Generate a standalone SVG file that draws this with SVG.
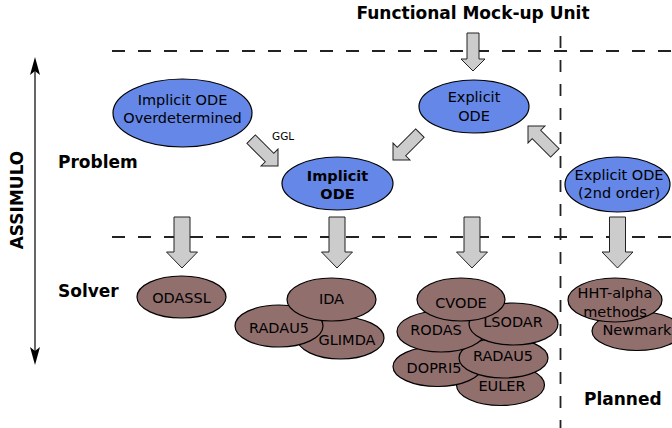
<svg xmlns="http://www.w3.org/2000/svg" xmlns:xlink="http://www.w3.org/1999/xlink" width="672" height="428" viewBox="0 0 672 428">
<style>
text{font-family:"DejaVu Sans","Liberation Sans",sans-serif;fill:#000}
.lbl{font-size:17px;font-weight:bold}
.nt{font-size:14.5px;text-anchor:middle}
.b{font-weight:bold}
.prob{fill:#6487e8;stroke:#000;stroke-width:1.2}
.solv{fill:#916f6d;stroke:#000;stroke-width:1.2}
.arr{fill:#cccccc;stroke:#222;stroke-width:1}
.dash{stroke:#222;stroke-width:1.8;stroke-dasharray:13 13;fill:none}
.vdash{stroke:#222;stroke-width:1.8;stroke-dasharray:12 12;fill:none}
</style>
<defs>
<path id="sa" d="M-6,-38 L6,-38 L6,-12 L12,-12 L0,0 L-12,-12 L-6,-12 Z"/>
<path id="ba" d="M-8,-51 L8,-51 L8,-16 L15.5,-16 L0,0 L-15.5,-16 L-8,-16 Z"/>
</defs>
<rect width="672" height="428" fill="#fff"/>

<g id="guides">
<line class="dash" x1="112" y1="51" x2="672" y2="51"/>
<line class="dash" x1="112" y1="237" x2="672" y2="237"/>
<line class="vdash" x1="560.5" y1="36" x2="560.5" y2="428"/>
</g>

<g id="assimulo-axis">
<line x1="35" y1="66" x2="35" y2="356" stroke="#000" stroke-width="1.2"/>
<path d="M35,57 L40,75 L35,71 L30,75 Z" fill="#000"/>
<path d="M35,365 L40,347 L35,351 L30,347 Z" fill="#000"/>
<text class="lbl" text-anchor="middle" transform="translate(23,200) rotate(-90)">ASSIMULO</text>
</g>

<g id="labels">
<text class="lbl" x="473" y="19" text-anchor="middle">Functional Mock-up Unit</text>
<text class="lbl" x="58" y="168">Problem</text>
<text class="lbl" x="58" y="297">Solver</text>
<text class="lbl" x="584" y="405">Planned</text>
</g>

<g id="connectors">
<use href="#sa" class="arr" transform="translate(473,71)"/>
<use href="#sa" class="arr" transform="translate(278,166) rotate(-45)"/>
<use href="#sa" class="arr" transform="translate(393,160) rotate(45)"/>
<use href="#sa" class="arr" transform="translate(528,126) rotate(135)"/>
<use href="#ba" class="arr" transform="translate(182,268)"/>
<use href="#ba" class="arr" transform="translate(337,268)"/>
<use href="#ba" class="arr" transform="translate(472,268)"/>
<use href="#ba" class="arr" transform="translate(617.5,268)"/>
<text x="272" y="140" font-size="10.5">GGL</text>
</g>

<g id="implicit-overdetermined">
<ellipse class="prob" cx="182.5" cy="113" rx="69.5" ry="34"/>
<text class="nt" x="182.5" y="105">Implicit ODE</text>
<text class="nt" x="182.5" y="123">Overdetermined</text>
</g>
<g id="implicit-ode">
<ellipse class="prob" cx="337.5" cy="183.5" rx="55.5" ry="26.5"/>
<text class="nt b" x="337.5" y="181">Implicit</text>
<text class="nt b" x="337.5" y="199">ODE</text>
</g>
<g id="explicit-ode">
<ellipse class="prob" cx="474" cy="106.5" rx="55" ry="26.5"/>
<text class="nt" x="474" y="102">Explicit</text>
<text class="nt" x="474" y="121">ODE</text>
</g>
<g id="explicit-ode-2nd">
<ellipse class="prob" cx="617.5" cy="184.5" rx="52.5" ry="27.5"/>
<text class="nt" x="619" y="180">Explicit ODE</text>
<text class="nt" x="619" y="198">(2nd order)</text>
</g>

<g id="odassl">
<ellipse class="solv" cx="181.5" cy="297" rx="44.5" ry="21"/>
<text class="nt" x="181.5" y="303">ODASSL</text>
</g>
<g id="glimda">
<ellipse class="solv" cx="340.5" cy="338" rx="43.5" ry="21"/>
<text class="nt" x="347" y="345">GLIMDA</text>
</g>
<g id="radau5-dae">
<ellipse class="solv" cx="279" cy="326" rx="44" ry="21"/>
<text class="nt" x="279" y="333">RADAU5</text>
</g>
<g id="ida">
<ellipse class="solv" cx="331.5" cy="299.5" rx="44.5" ry="21.5"/>
<text class="nt" x="331.5" y="304">IDA</text>
</g>

<g id="euler">
<ellipse class="solv" cx="500.5" cy="385" rx="44" ry="20.5"/>
<text class="nt" x="502" y="391">EULER</text>
</g>
<g id="dopri5">
<ellipse class="solv" cx="437.5" cy="366.5" rx="44.5" ry="20"/>
<text class="nt" x="434" y="373">DOPRI5</text>
</g>
<g id="radau5-ode">
<ellipse class="solv" cx="503.5" cy="358" rx="44.5" ry="20"/>
<text class="nt" x="503" y="361">RADAU5</text>
</g>
<g id="rodas">
<ellipse class="solv" cx="441" cy="331.5" rx="44" ry="20.5"/>
<text class="nt" x="436" y="335">RODAS</text>
</g>
<g id="lsodar">
<ellipse class="solv" cx="513.5" cy="324" rx="44.5" ry="21"/>
<text class="nt" x="513" y="327">LSODAR</text>
</g>
<g id="cvode">
<ellipse class="solv" cx="461" cy="299.5" rx="44" ry="21.5"/>
<text class="nt" x="461" y="308">CVODE</text>
</g>

<g id="newmark">
<ellipse class="solv" cx="637" cy="331" rx="45" ry="19.5"/>
<text class="nt" x="637" y="335">Newmark</text>
</g>
<g id="hht-alpha">
<ellipse class="solv" cx="615" cy="300" rx="47" ry="22"/>
<text class="nt" x="615" y="298">HHT-alpha</text>
<text class="nt" x="615" y="317">methods</text>
</g>
</svg>
